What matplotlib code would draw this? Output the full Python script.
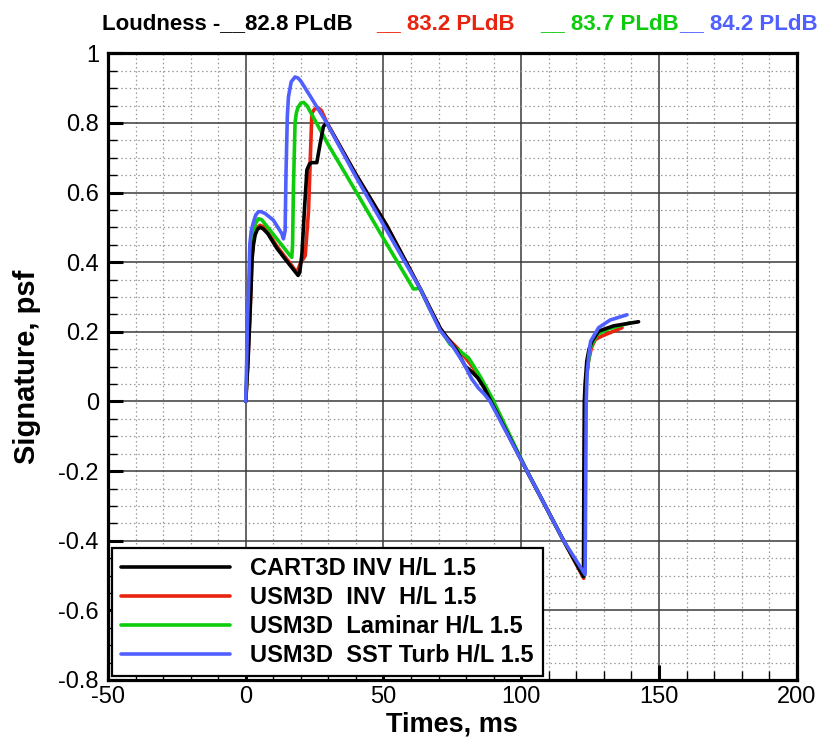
import matplotlib
matplotlib.use("Agg")
import matplotlib.pyplot as plt
from matplotlib.ticker import FixedLocator, FixedFormatter, MultipleLocator

# ---------------- data ----------------
cart3d_t = [0, 0.8, 1.5, 1.9, 2.3, 2.8, 3.4, 4.2, 5.2, 6.3, 8.0, 11.3, 14.0, 16.5, 18.2, 19.0,
            19.6, 20.4, 21.3, 22.2, 23.2, 24.0, 25.8, 27.0, 28.2, 29.4, 40.0, 51.2, 63.4, 67.0,
            70.6, 73.1, 76.5, 79.7, 82.1, 84.2, 86.5, 88.7, 102.1, 115.4, 122.6, 122.7, 122.9,
            123.2, 123.8, 124.6, 125.7, 128.1, 133.5, 138.0, 142.6]
cart3d_p = [0, 0.11, 0.24, 0.32, 0.41, 0.45, 0.478, 0.494, 0.500, 0.496, 0.482, 0.44, 0.412,
            0.387, 0.37, 0.362, 0.37, 0.424, 0.55, 0.665, 0.683, 0.686, 0.686, 0.74, 0.79, 0.80,
            0.652, 0.505, 0.323, 0.266, 0.21, 0.183, 0.148, 0.101, 0.085, 0.068, 0.04, 0.005,
            -0.2, -0.4, -0.503, -0.3, 0.0, 0.05, 0.116, 0.15, 0.173, 0.202, 0.217, 0.223, 0.229]

usm_inv_t = [0, 0.8, 1.5, 1.9, 2.3, 2.8, 3.4, 4.2, 5.2, 6.3, 8.0, 11.3, 14.0, 16.1, 17.8,
             18.55, 19.75, 21.6, 22.8, 24.0, 25.0, 26.4, 27.5, 29.4, 40.0, 51.2, 63.4, 67.0,
             70.6, 73.1, 77.0, 80.0, 82.7, 85.8, 88.7, 102.1, 115.4, 122.7, 122.9, 123.1, 123.4,
             124.4, 125.5, 126.9, 129.3, 133.0, 136.6]
usm_inv_p = [0, 0.12, 0.25, 0.33, 0.42, 0.46, 0.485, 0.50, 0.506, 0.502, 0.487, 0.446, 0.418,
             0.397, 0.378, 0.371, 0.395, 0.419, 0.549, 0.828, 0.840, 0.843, 0.835, 0.802, 0.652,
             0.505, 0.323, 0.266, 0.21, 0.183, 0.152, 0.123, 0.096, 0.05, 0.005, -0.2, -0.4,
             -0.508, -0.25, 0.0, 0.06, 0.116, 0.155, 0.178, 0.188, 0.200, 0.212]

usm_lam_t = [0, 0.6, 1.2, 1.7, 2.2, 2.7, 3.5, 4.6, 5.8, 7.5, 10.5, 13.5, 15.8, 16.7, 17.0, 17.3,
             17.9, 18.4, 19.0, 20.0, 21.0, 22.2, 30.0, 40.0, 50.0, 60.9, 63.3, 66.5, 70.6, 74.2,
             77.5, 80.9, 85.1, 89.4, 102.1, 115.4, 122.8, 123.0, 123.3, 123.8, 125.1, 127.5,
             131.1, 135.5, 139.6]
usm_lam_p = [0, 0.12, 0.28, 0.40, 0.45, 0.48, 0.51, 0.525, 0.522, 0.505, 0.475, 0.445, 0.422,
             0.414, 0.45, 0.607, 0.80, 0.83, 0.845, 0.857, 0.859, 0.85, 0.737, 0.603, 0.468,
             0.323, 0.325, 0.27, 0.207, 0.164, 0.146, 0.125, 0.072, 0.01, -0.2, -0.4, -0.503,
             -0.25, 0.0, 0.08, 0.154, 0.192, 0.207, 0.217, 0.226]

usm_sst_t = [0, 0.3, 0.7, 1.0, 1.5, 2.0, 2.8, 3.6, 4.6, 5.6, 7.0, 10.0, 13.1, 13.7, 14.3, 14.6,
             15.1, 15.5, 16.5, 17.9, 19.0, 20.0, 23.4, 29.4, 40.0, 51.2, 63.4, 67.0, 70.6, 75.0,
             79.1, 82.0, 84.5, 86.5, 88.7, 102.1, 115.4, 123.2, 123.4, 123.6, 123.9, 124.5,
             125.2, 128.1, 132.3, 138.4]
usm_sst_p = [0, 0.1, 0.25, 0.318, 0.453, 0.49, 0.515, 0.535, 0.545, 0.545, 0.540, 0.521, 0.482,
             0.467, 0.491, 0.65, 0.819, 0.875, 0.918, 0.932, 0.929, 0.92, 0.877, 0.80, 0.645,
             0.491, 0.323, 0.262, 0.204, 0.16, 0.11, 0.065, 0.038, 0.022, 0.0, -0.2, -0.4,
             -0.497, -0.25, 0.0, 0.08, 0.13, 0.173, 0.212, 0.234, 0.249]

series_labels = ["CART3D INV H/L 1.5", "USM3D  INV  H/L 1.5",
                 "USM3D  Laminar H/L 1.5", "USM3D  SST Turb H/L 1.5"]
loudness_labels = ["Loudness -__82.8 PLdB", "__ 83.2 PLdB", "__ 83.7 PLdB", "__ 84.2 PLdB"]

x_ticks = [-50, 0, 50, 100, 150, 200]
x_tick_labels = ["-50", "0", "50", "100", "150", "200"]
y_ticks = [-0.8, -0.6, -0.4, -0.2, 0, 0.2, 0.4, 0.6, 0.8, 1.0]
y_tick_labels = ["-0.8", "-0.6", "-0.4", "-0.2", "0", "0.2", "0.4", "0.6", "0.8", "1"]

# ---------------- style ----------------
C_BLACK = "#000000"
C_RED = "#e8230f"
C_GREEN = "#0ccc0c"
C_BLUE = "#5060ff"

plt.rcParams["font.family"] = ["Liberation Sans", "DejaVu Sans"]

fig = plt.figure(figsize=(8.22, 7.42), dpi=100)
W, H = 822, 742
ax = fig.add_axes([108 / W, 1 - 680 / H, (796.7 - 108) / W, (680 - 53.3) / H])

lw = 2.6
kw = dict(lw=lw, solid_joinstyle="round", solid_capstyle="round")
l_red, = ax.plot(usm_inv_t, usm_inv_p, color=C_RED, zorder=3, label=series_labels[1], **kw)
l_green, = ax.plot(usm_lam_t, usm_lam_p, color=C_GREEN, zorder=3, label=series_labels[2], **kw)
l_black, = ax.plot(cart3d_t, cart3d_p, color=C_BLACK, zorder=4, label=series_labels[0], **kw)
l_blue, = ax.plot(usm_sst_t, usm_sst_p, color=C_BLUE, zorder=5, label=series_labels[3], **kw)

ax.set_xlim(-50, 200)
ax.set_ylim(-0.8, 1.0)

ax.xaxis.set_major_locator(FixedLocator(x_ticks))
ax.xaxis.set_major_formatter(FixedFormatter(x_tick_labels))
ax.yaxis.set_major_locator(FixedLocator(y_ticks))
ax.yaxis.set_major_formatter(FixedFormatter(y_tick_labels))
ax.xaxis.set_minor_locator(MultipleLocator(10))
ax.yaxis.set_minor_locator(MultipleLocator(0.05))

ax.grid(which="major", color="#3a3a3a", lw=1.1, ls="-", zorder=1)
ax.grid(which="minor", color="#999999", lw=0.9, ls=(0, (1.2, 2.2)), zorder=0.5)
ax.set_axisbelow(True)

ax.tick_params(which="major", direction="in", length=11, width=2.2, labelsize=17,
               top=False, right=False)
ax.tick_params(which="minor", direction="in", length=6.5, width=1.0, top=False, right=False)
ax.tick_params(axis="x", which="major", pad=4)
ax.tick_params(axis="y", which="major", pad=6.5)

for s in ax.spines.values():
    s.set_linewidth(2.3)
    s.set_zorder(6)

ax.set_xlabel("Times, ms", fontsize=19.5, fontweight="bold")
ax.set_ylabel("Signature, psf", fontsize=21, fontweight="bold")
ax.xaxis.set_label_coords(0.5, -0.05)
ax.yaxis.set_label_coords(-0.098, 0.5)

leg = ax.legend(handles=[l_black, l_red, l_green, l_blue], labels=series_labels,
                loc="center left", bbox_to_anchor=(0.0054, 0.1085), borderaxespad=0,
                prop={"size": 17, "weight": "bold"}, frameon=True, fancybox=False,
                edgecolor="black", framealpha=1, borderpad=0.4, handlelength=4.6,
                handletextpad=0.85, labelspacing=0.25)
leg.get_frame().set_linewidth(1.6)
leg.set_zorder(7)

# loudness header
title_colors = [C_BLACK, C_RED, C_GREEN, C_BLUE]
title_x = [102, 376, 540, 679]
for txt, col, xp in zip(loudness_labels, title_colors, title_x):
    fig.text(xp / W, 1 - 29 / H, txt, color=col, fontsize=16, fontweight="bold",
             ha="left", va="baseline")

fig.savefig("out.png", dpi=100)
